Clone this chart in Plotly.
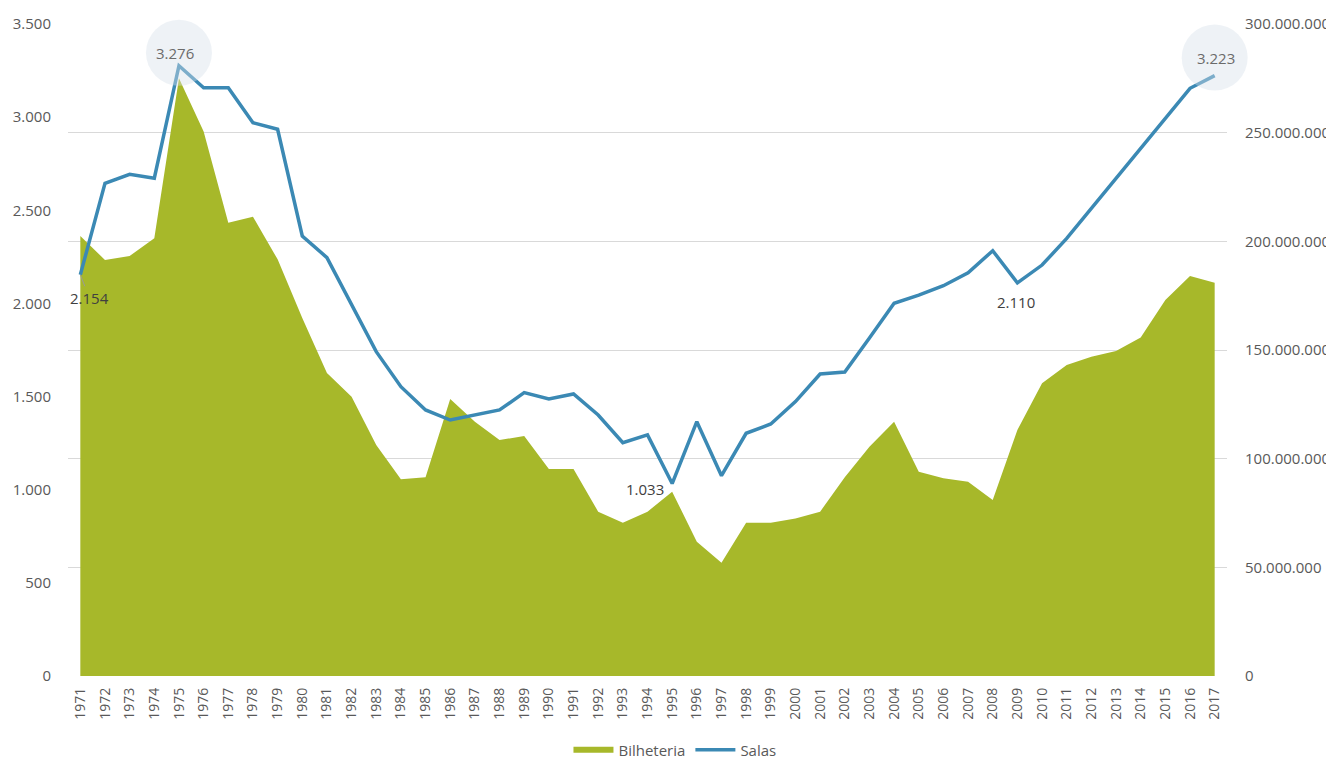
import plotly.graph_objects as go

years = [str(y) for y in range(1971, 2018)]

# Número de salas (left axis)
salas = [2154, 2645, 2693, 2672, 3276, 3158, 3158, 2970, 2935, 2362,
         2246, 1993, 1741, 1553, 1428, 1374, 1401, 1428, 1521, 1487,
         1514, 1401, 1252, 1294, 1033, 1365, 1075, 1303, 1353, 1473,
         1621, 1632, 1814, 2001, 2045, 2095, 2165, 2283, 2110, 2206,
         2349, 2510, 2675, 2832, 2994, 3155, 3223]

# Bilheteria - público (right axis)
bilheteria = [202.5, 191.4, 193.3, 201.4, 275.0, 250.5, 208.6, 211.3, 191.7, 164.7,
              139.4, 128.5, 106.3, 90.5, 91.4, 127.5, 117.0, 108.6, 110.4, 95.2,
              95.2, 75.6, 70.5, 75.6, 84.8, 61.8, 52.1, 70.5, 70.5, 72.5,
              75.6, 91.5, 105.5, 117.0, 94.0, 91.0, 89.4, 81.0, 113.2, 134.7,
              143.1, 146.9, 149.5, 155.7, 173.0, 184.0, 181.0]
bilheteria = [v * 1_000_000 for v in bilheteria]

left_ticks = [0, 500, 1000, 1500, 2000, 2500, 3000, 3500]
right_ticks = [0, 50e6, 100e6, 150e6, 200e6, 250e6, 300e6]

highlight_years = ["1975", "2017"]

GREEN = "#A7B82A"
BLUE = "#3B89B4"
FONT = "Open Sans"
TICKCOL = "#595959"

PLOT_H = 652           # plot area height in px
LEFT_MAX = 3500
UNITS_PER_PX = LEFT_MAX / PLOT_H

fig = go.Figure()
fig.add_trace(go.Scatter(
    x=years, y=bilheteria, name="Bilheteria", mode="none",
    fill="tozeroy", fillcolor=GREEN, yaxis="y"))
fig.add_trace(go.Scatter(
    x=years, y=salas, name="Salas", mode="lines",
    line=dict(color=BLUE, width=3.5), yaxis="y2"))

# circles highlighting peaks (markers drawn above the line, not clipped)
offsets = {"1975": (-4, 13), "2017": (1, 18)}
for yr in highlight_years:
    idx = years.index(yr)
    val = salas[idx]
    dx, dy = offsets[yr]
    fig.add_trace(go.Scatter(
        x=[yr], y=[val + dy * UNITS_PER_PX], yaxis="y2", mode="markers",
        marker=dict(size=66, color="rgba(214,224,234,0.42)", line=dict(width=0)),
        cliponaxis=False, showlegend=False, hoverinfo="skip"))
    fig.add_annotation(x=idx, y=val, xref="x", yref="y2",
                       text=f"{val:,}".replace(",", "."),
                       showarrow=False, xshift=dx, yshift=dy,
                       font=dict(family=FONT, size=15, color="#6b6b6b"))

def lab(yr):
    v = salas[years.index(yr)]
    return years.index(yr), v, f"{v:,}".replace(",", ".")

i, v, t = lab("1971")
fig.add_annotation(x=i, y=v, xref="x", yref="y2", text=t,
                   showarrow=True, arrowhead=0, arrowwidth=1, arrowcolor="#9a9a9a",
                   ax=9, ay=23, font=dict(family=FONT, size=15, color="#404040"))
i, v, t = lab("1995")
fig.add_annotation(x=i, y=v, xref="x", yref="y2", text=t,
                   showarrow=False, xshift=-27, yshift=-5,
                   font=dict(family=FONT, size=15, color="#404040"))
i, v, t = lab("2009")
fig.add_annotation(x=i, y=v, xref="x", yref="y2", text=t,
                   showarrow=False, xshift=-1, yshift=-19,
                   font=dict(family=FONT, size=15, color="#404040"))

fig.update_layout(
    width=1326, height=752,
    margin=dict(l=60, r=107, t=16, b=84, autoexpand=False),
    paper_bgcolor="white", plot_bgcolor="white",
    separators=",.",
    font=dict(family=FONT, size=15, color=TICKCOL),
    showlegend=True,
    legend=dict(orientation="h", x=0.5237, xanchor="center", y=-0.1135, yanchor="middle",
                font=dict(family=FONT, size=15, color=TICKCOL), itemwidth=40,
                traceorder="normal"),
    xaxis=dict(type="category", range=[-0.5, 46.5], tickangle=-90, dtick=1,
               showgrid=False, showline=False, zeroline=False, ticks="",
               ticklabelstandoff=8, automargin=False,
               tickfont=dict(family=FONT, size=14, color=TICKCOL)),
    yaxis=dict(side="right", range=[0, 300e6], tickvals=right_ticks,
               tickformat=",d", showgrid=True, gridcolor="#d9d9d9", gridwidth=1.3,
               zeroline=False, showline=False, ticks="", ticklabelstandoff=17,
               automargin=False,
               tickfont=dict(family=FONT, size=15, color=TICKCOL)),
    yaxis2=dict(side="left", overlaying="y", range=[0, LEFT_MAX], tickvals=left_ticks,
                tickformat=",d", showgrid=False, zeroline=False, showline=False,
                ticks="", ticklabelstandoff=16, automargin=False,
                tickfont=dict(family=FONT, size=15, color=TICKCOL)),
)

fig.write_html("out.html")
